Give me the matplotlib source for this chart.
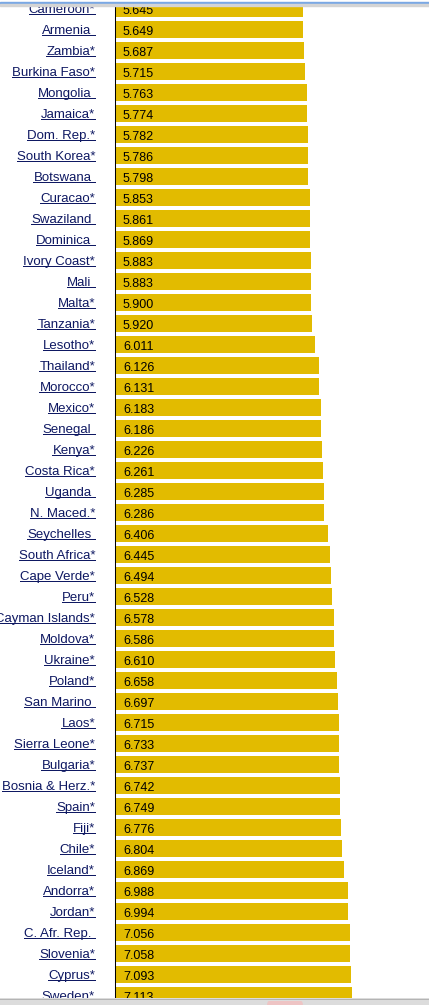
import matplotlib
matplotlib.use("Agg")
import matplotlib.pyplot as plt
from matplotlib.patches import Rectangle, FancyBboxPatch
from matplotlib.lines import Line2D

countries = ["Cameroon*", "Armenia ", "Zambia*", "Burkina Faso*", "Mongolia ", "Jamaica*",
             "Dom. Rep.*", "South Korea*", "Botswana ", "Curacao*", "Swaziland ", "Dominica ",
             "Ivory Coast*", "Mali ", "Malta*", "Tanzania*", "Lesotho*", "Thailand*",
             "Morocco*", "Mexico*", "Senegal ", "Kenya*", "Costa Rica*", "Uganda ",
             "N. Maced.*", "Seychelles ", "South Africa*", "Cape Verde*", "Peru*",
             "Cayman Islands*", "Moldova*", "Ukraine*", "Poland*", "San Marino ", "Laos*",
             "Sierra Leone*", "Bulgaria*", "Bosnia & Herz.*", "Spain*", "Fiji*", "Chile*",
             "Iceland*", "Andorra*", "Jordan*", "C. Afr. Rep. ", "Slovenia*", "Cyprus*",
             "Sweden*"]
scores = [5.645, 5.649, 5.687, 5.715, 5.763, 5.774, 5.782, 5.786, 5.798, 5.853, 5.861,
          5.869, 5.883, 5.883, 5.900, 5.920, 6.011, 6.126, 6.131, 6.183, 6.186, 6.226,
          6.261, 6.285, 6.286, 6.406, 6.445, 6.494, 6.528, 6.578, 6.586, 6.610, 6.658,
          6.697, 6.715, 6.733, 6.737, 6.742, 6.749, 6.776, 6.804, 6.869, 6.988, 6.994,
          7.056, 7.058, 7.093, 7.113]

W, H = 429, 1005
bar_color = "#e2bb00"
link_color = "#0e1862"

# layout in pixels
zero_px = 115
px_per_unit = 33.3
row_px = 21
first_center = 8.5
ax_top, ax_bot = 6, 998
label_right = 95

plt.rcParams["font.family"] = ["Liberation Sans", "DejaVu Sans"]

fig = plt.figure(figsize=(W / 100, H / 100), dpi=100)
ax = fig.add_axes([zero_px / W, (H - ax_bot) / H, (W - zero_px) / W, (ax_bot - ax_top) / H])
ax.barh(range(len(scores)), scores, height=17 / row_px, color=bar_color)
ax.set_xlim(0, (W - zero_px) / px_per_unit)
ax.set_ylim((ax_bot - first_center) / row_px, (ax_top - first_center) / row_px)
for s in ["top", "right", "bottom"]:
    ax.spines[s].set_visible(False)
ax.spines["left"].set_linewidth(0.75)
ax.spines["left"].set_color("black")
ax.set_xticks([])
ax.set_yticks([])

labels = []
for i, (name, v) in enumerate(zip(countries, scores)):
    shift = 3.6 if name.endswith(" ") else 0  # trailing space is underlined too
    t = ax.annotate(name.rstrip(), (0, i), xytext=(label_right - zero_px - shift, -4.6),
                    textcoords="offset pixels", ha="right", va="baseline",
                    fontsize=9.5, color=link_color, annotation_clip=False)
    labels.append(t)
    ax.annotate("%.3f" % v, (0, i), xytext=(8, -5.4), textcoords="offset pixels",
                ha="left", va="baseline", fontsize=9, color="black",
                annotation_clip=False)

# underline the link labels
fig.canvas.draw()
r = fig.canvas.get_renderer()
for i, t in enumerate(labels):
    bb = t.get_window_extent(r)
    y = H - (first_center + row_px * i + 5.6)
    fig.add_artist(Line2D([bb.x0 / W, label_right / W], [y / H, y / H],
                          transform=fig.transFigure, color=link_color, lw=0.72))

# browser chrome at top and bottom
fig.add_artist(Rectangle((0, (H - 2) / H), 1, 2 / H, transform=fig.transFigure,
                         color="white", zorder=5))
fig.add_artist(Rectangle((0, (H - 4) / H), 1, 2 / H, transform=fig.transFigure,
                         color="#7aa8e4", zorder=5))
fig.add_artist(Rectangle((0, (H - 6) / H), 1, 2 / H, transform=fig.transFigure,
                         color="#d4d4d4", zorder=5))
fig.add_artist(Rectangle((0, 0), 1, (H - ax_bot) / H, transform=fig.transFigure,
                         facecolor="#dcdcdc", edgecolor="none", zorder=5))
fig.add_artist(Line2D([0, 1], [(H - ax_bot - 0.5) / H] * 2, transform=fig.transFigure,
                      color="#b4b4b4", lw=0.72, zorder=6))
fig.add_artist(FancyBboxPatch((267 / W, -4 / H), 36 / W, 8 / H,
                              boxstyle="round,pad=0,rounding_size=0.005",
                              transform=fig.transFigure, facecolor="#eec4c4",
                              edgecolor="none", zorder=6))

fig.savefig("out.png", dpi=100)
